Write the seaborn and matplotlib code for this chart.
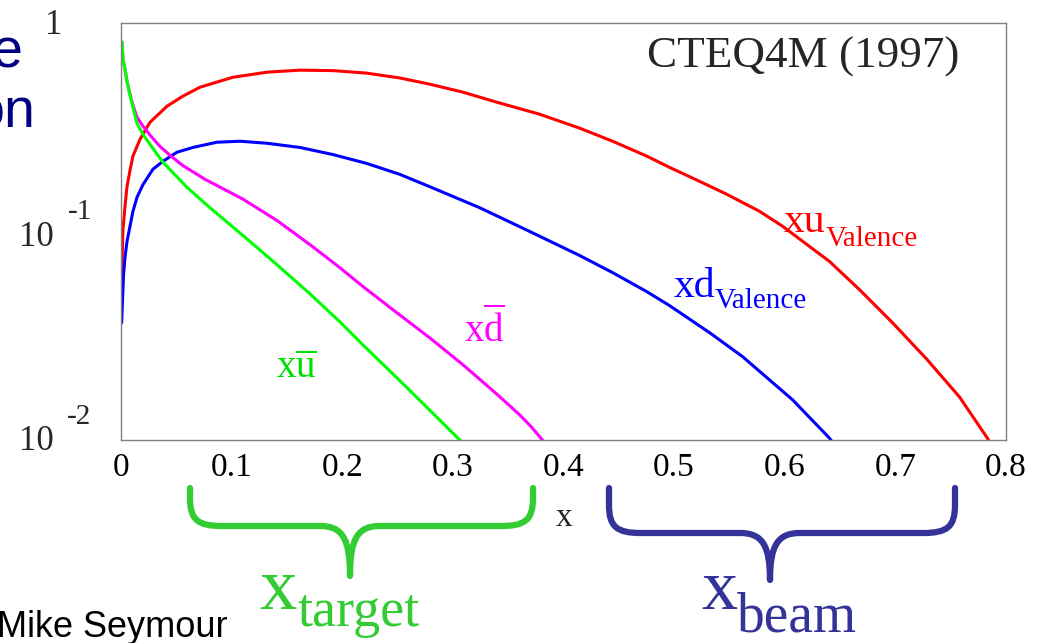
import numpy as np
import pandas as pd
import matplotlib
matplotlib.use("Agg")
import matplotlib.pyplot as plt
import seaborn as sns
from matplotlib.path import Path
from matplotlib.patches import PathPatch
from matplotlib.ticker import MultipleLocator, LogLocator, NullFormatter, FixedLocator

# ---------------- data ----------------
xu_val_x = [0.0003, 0.0011, 0.0018, 0.0036, 0.0054, 0.0081, 0.0108, 0.0172, 0.0262, 0.0416,
            0.056, 0.0714, 0.101, 0.132, 0.1617, 0.1915, 0.222, 0.252, 0.279, 0.309,
            0.3397, 0.3785, 0.4146, 0.4444, 0.4752, 0.4959, 0.523, 0.5474, 0.5772, 0.598,
            0.6405, 0.6676, 0.6974, 0.7281, 0.7579, 0.7832, 0.785]
xu_val_y = [0.060, 0.0774, 0.102, 0.132, 0.164, 0.196, 0.230, 0.277, 0.334, 0.399,
            0.446, 0.492, 0.549, 0.581, 0.594, 0.591, 0.575, 0.545, 0.509, 0.466,
            0.417, 0.365, 0.313, 0.271, 0.230, 0.203, 0.174, 0.151, 0.125, 0.106,
            0.0718, 0.0526, 0.0365, 0.0245, 0.0161, 0.0102, 0.0098]

xd_val_x = [0.0006, 0.0014, 0.0023, 0.0036, 0.0054, 0.0072, 0.0108, 0.0145, 0.0199, 0.0289,
            0.0379, 0.0506, 0.065, 0.0867, 0.1075, 0.1319, 0.1617, 0.1915, 0.2222, 0.252,
            0.2791, 0.3243, 0.3695, 0.4146, 0.4444, 0.4752, 0.4959, 0.5321, 0.5619, 0.607,
            0.6405, 0.6423]
xd_val_y = [0.0365, 0.0471, 0.0620, 0.0750, 0.0895, 0.100, 0.125, 0.146, 0.168, 0.199,
            0.217, 0.240, 0.253, 0.268, 0.271, 0.265, 0.253, 0.234, 0.212, 0.188,
            0.164, 0.130, 0.100, 0.0767, 0.0635, 0.0515, 0.0441, 0.0327, 0.0251, 0.0156,
            0.0102, 0.0099]

xdbar_x = [0.0009, 0.0018, 0.0036, 0.0054, 0.0081, 0.0108, 0.0145, 0.0199, 0.0262, 0.0352,
           0.0443, 0.056, 0.0759, 0.1102, 0.1409, 0.1707, 0.1978, 0.2186, 0.2493, 0.2791,
           0.3089, 0.3397, 0.3604, 0.3713, 0.3803, 0.3821]
xdbar_y = [0.810, 0.671, 0.601, 0.526, 0.456, 0.403, 0.353, 0.320, 0.290, 0.256,
           0.232, 0.207, 0.178, 0.143, 0.113, 0.0866, 0.0671, 0.0545, 0.0408, 0.0309,
           0.0230, 0.0166, 0.0132, 0.0115, 0.0101, 0.0098]

xubar_x = [0.0009, 0.0018, 0.0036, 0.0054, 0.0081, 0.0108, 0.0145, 0.0199, 0.0262, 0.0379,
           0.0596, 0.0804, 0.1102, 0.1409, 0.1707, 0.1978, 0.2186, 0.2493, 0.2791, 0.3062,
           0.308]
xubar_y = [0.810, 0.671, 0.601, 0.526, 0.451, 0.394, 0.330, 0.292, 0.262, 0.215,
           0.163, 0.130, 0.0957, 0.0694, 0.0503, 0.0369, 0.0286, 0.0199, 0.0139, 0.0100,
           0.0098]

series_names = ["xu_valence", "xd_valence", "xdbar", "xubar"]
series_colors = {"xu_valence": "#ff0000", "xd_valence": "#0000ff",
                 "xdbar": "#ff00ff", "xubar": "#00ff00"}

x_ticks = [0, 0.1, 0.2, 0.3, 0.4, 0.5, 0.6, 0.7, 0.8]
x_tick_labels = ["0", "0.1", "0.2", "0.3", "0.4", "0.5", "0.6", "0.7", "0.8"]

df = pd.concat([
    pd.DataFrame({"x": xu_val_x, "y": xu_val_y, "series": "xu_valence"}),
    pd.DataFrame({"x": xd_val_x, "y": xd_val_y, "series": "xd_valence"}),
    pd.DataFrame({"x": xdbar_x, "y": xdbar_y, "series": "xdbar"}),
    pd.DataFrame({"x": xubar_x, "y": xubar_y, "series": "xubar"}),
], ignore_index=True)

# ---------------- style ----------------
sns.set_style("white")
plt.rcParams["font.family"] = ["Liberation Serif", "DejaVu Serif"]
plt.rcParams["mathtext.fontset"] = "custom"
plt.rcParams["mathtext.rm"] = "Liberation Serif"
plt.rcParams["mathtext.it"] = "Liberation Serif:italic"

W, H = 1047, 643
fig = plt.figure(figsize=(W / 100, H / 100), dpi=100)
fig.patch.set_facecolor("white")

def fx(px):
    return px / W

def fy(py):
    return 1 - py / H

ax = fig.add_axes([fx(121), fy(440), fx(1006) - fx(121), fy(23) - fy(440)])

sns.lineplot(data=df, x="x", y="y", hue="series", hue_order=series_names,
             palette=series_colors, sort=False, estimator=None, legend=False,
             linewidth=2.2, ax=ax)
for ln in ax.get_lines():
    ln.set_solid_joinstyle("round")
    ln.set_solid_capstyle("round")

ax.set_yscale("log")
ax.set_xlim(0, 0.8)
ax.set_ylim(0.01, 1)
ax.set_xlabel("")
ax.set_ylabel("")

for s in ax.spines.values():
    s.set_color("#7f7f7f")
    s.set_linewidth(1.0)
    s.set_zorder(5)

ax.xaxis.set_major_locator(FixedLocator(x_ticks))
ax.set_xticklabels(x_tick_labels)
ax.xaxis.set_minor_locator(MultipleLocator(0.02))
ax.yaxis.set_major_locator(FixedLocator([0.01, 0.1, 1]))
ax.yaxis.set_minor_locator(LogLocator(base=10, subs=np.arange(2, 10)))
ax.yaxis.set_minor_formatter(NullFormatter())
ax.set_yticklabels([])

ax.tick_params(axis="x", which="major", direction="in", length=14, width=1,
               color="#7f7f7f", labelsize=24, pad=9, top=False, labelcolor="black")
ax.tick_params(axis="x", which="minor", direction="in", length=7, width=1,
               color="#7f7f7f", top=False)
ax.tick_params(axis="y", which="major", direction="in", length=14, width=1,
               color="#7f7f7f", right=False)
ax.tick_params(axis="y", which="minor", direction="in", length=7, width=1,
               color="#7f7f7f", right=False)

# y tick labels (ROOT style)
fig.text(fx(62), fy(25), "1", ha="right", va="center", fontsize=25)
fig.text(fx(54), fy(238), "10", ha="right", va="center", fontsize=25)
fig.text(fx(92), fy(212), "-1", ha="right", va="center", fontsize=21)
fig.text(fx(54), fy(441), "10", ha="right", va="center", fontsize=25)
fig.text(fx(91), fy(417), "-2", ha="right", va="center", fontsize=21)

# x axis label
fig.text(fx(564), fy(518), "x", ha="center", va="center", fontsize=24)

# title in the frame
fig.text(fx(647), fy(57), "CTEQ4M (1997)", ha="left", va="center", fontsize=32.5)

# curve labels
fig.text(fx(784), fy(232), "xu", ha="left", va="baseline", fontsize=30, color="#ff0000")
fig.text(fx(826), fy(246), "Valence", ha="left", va="baseline", fontsize=21, color="#ff0000")
fig.text(fx(674), fy(297), "xd", ha="left", va="baseline", fontsize=30, color="#0000ff")
fig.text(fx(715), fy(308), "Valence", ha="left", va="baseline", fontsize=21, color="#0000ff")
fig.text(fx(464), fy(342), r"$\mathrm{x}\overline{\mathrm{d}}$", ha="left", va="baseline",
         fontsize=28, color="#ff00ff")
fig.text(fx(276), fy(378), r"$\mathrm{x}\overline{\mathrm{u}}$", ha="left", va="baseline",
         fontsize=28, color="#00e000")

# braces
def brace(x0, x1, xm, ytop, yh, ytip, color):
    r = 28
    verts = [
        (x0, ytop), (x0, yh - r),
        (x0, yh - 6), (x0 + 8, yh), (x0 + r + 4, yh),
        (xm - 30, yh),
        (xm - 8, yh), (xm, yh + 12), (xm, ytip),
        (xm, yh + 12), (xm + 8, yh), (xm + 30, yh),
        (x1 - r - 4, yh),
        (x1 - 8, yh), (x1, yh - 6), (x1, yh - r),
        (x1, ytop),
    ]
    codes = [Path.MOVETO, Path.LINETO,
             Path.CURVE4, Path.CURVE4, Path.CURVE4,
             Path.LINETO,
             Path.CURVE4, Path.CURVE4, Path.CURVE4,
             Path.CURVE4, Path.CURVE4, Path.CURVE4,
             Path.LINETO,
             Path.CURVE4, Path.CURVE4, Path.CURVE4,
             Path.LINETO]
    verts = [(fx(a), fy(b)) for a, b in verts]
    p = PathPatch(Path(verts, codes), facecolor="none", edgecolor=color, lw=4.5,
                  capstyle="round", joinstyle="round", transform=fig.transFigure)
    fig.add_artist(p)

green_b = "#33cc33"
blue_b = "#333399"
brace(190, 533, 350, 488, 526, 576, green_b)
brace(609, 955, 770, 488, 533, 580, blue_b)

fig.text(fx(259), fy(609), "x", ha="left", va="baseline", fontsize=54, color=green_b)
fig.text(fx(297), fy(626), "target", ha="left", va="baseline", fontsize=39, color=green_b)
fig.text(fx(701), fy(609), "x", ha="left", va="baseline", fontsize=52, color=blue_b)
fig.text(fx(737), fy(632), "beam", ha="left", va="baseline", fontsize=40, color=blue_b)

# slide fragments
fig.text(fx(-3), fy(637), "Mike Seymour", ha="left", va="baseline", fontsize=26,
         color="black", family=["Liberation Sans", "DejaVu Sans"])
fig.text(fx(22), fy(68), "e", ha="right", va="baseline", fontsize=40,
         color="#000080", family=["Liberation Sans", "DejaVu Sans"])
fig.text(fx(35), fy(128), "on", ha="right", va="baseline", fontsize=40,
         color="#000080", family=["Liberation Sans", "DejaVu Sans"])

fig.savefig("out.png", dpi=100, facecolor="white")
